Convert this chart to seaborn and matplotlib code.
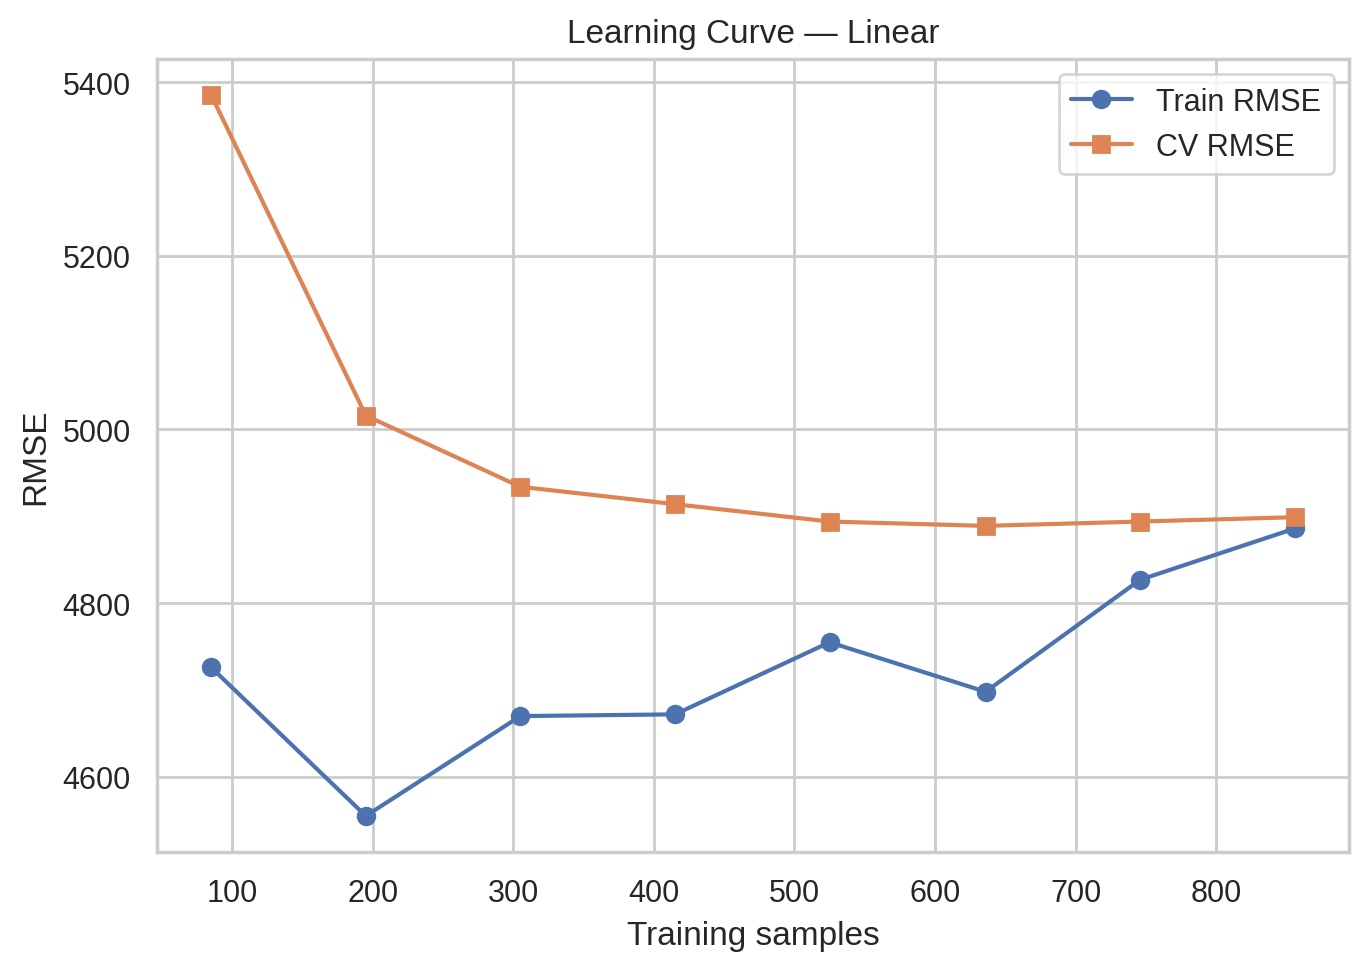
import numpy as np
import pandas as pd
import matplotlib
matplotlib.use("Agg")
import matplotlib.pyplot as plt
import seaborn as sns

# Learning curve values
train_sizes = [85, 195, 305, 415, 525, 636, 746, 856]
train_rmse = [4726, 4555, 4670, 4672, 4755, 4698, 4827, 4886]
cv_rmse = [5385, 5016, 4934, 4914, 4894, 4889, 4894, 4899]

sns.set_theme(style="whitegrid")
plt.rcParams['font.family'] = ['Liberation Sans', 'DejaVu Sans']
palette = sns.color_palette("deep")

fig, ax = plt.subplots(figsize=(6.84, 4.85), dpi=200)

sns.lineplot(x=train_sizes, y=train_rmse, marker="o", color=palette[0],
             markersize=6, markeredgewidth=1, markeredgecolor=palette[0],
             label="Train RMSE", ax=ax)
sns.lineplot(x=train_sizes, y=cv_rmse, marker="s", color=palette[1],
             markersize=6, markeredgewidth=1, markeredgecolor=palette[1],
             label="CV RMSE", ax=ax)

ax.set_title("Learning Curve — Linear")
ax.set_xlabel("Training samples")
ax.set_ylabel("RMSE")
ax.set_xticks([100, 200, 300, 400, 500, 600, 700, 800])
ax.set_yticks([4600, 4800, 5000, 5200, 5400])
ax.legend(loc="upper right")

fig.subplots_adjust(left=0.1148, right=0.9861, top=0.9381, bottom=0.1206)
plt.savefig("out.png", dpi=200)
